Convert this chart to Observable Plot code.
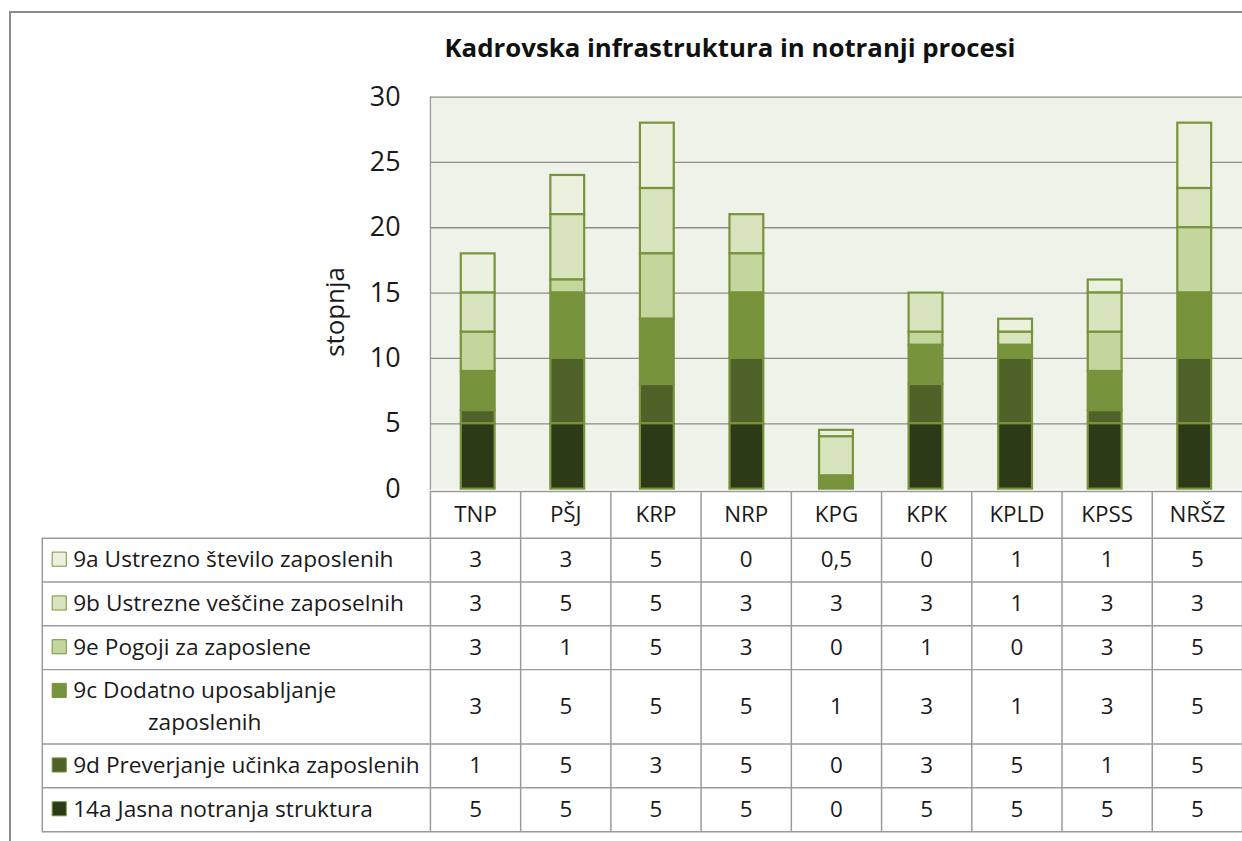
<!DOCTYPE html>
<html>
<head>
<meta charset="utf-8">
<script src="https://cdn.jsdelivr.net/npm/d3@7"></script>
<script src="https://cdn.jsdelivr.net/npm/@observablehq/plot@0.6"></script>
<style>
  html, body { margin: 0; padding: 0; background: #fff; }
  #wrap { position: relative; width: 1242px; height: 841px; overflow: hidden; background: #fff; font-family: "Open Sans", sans-serif; }
  #border { position: absolute; left: 9px; top: 11px; width: 1400px; height: 1000px; border: 2px solid #8c8c8c; box-sizing: border-box; }
  #title { position: absolute; top: 30px; left: 0; width: 1460px; text-align: center; font-weight: bold; font-size: 25.8px; color: #111; line-height: 34px; }
  #chart { position: absolute; left: 0; top: 0; }
  #table { position: absolute; left: 0; top: 490px; }
  svg { overflow: visible; }
</style>
</head>
<body>
<div id="wrap">
  <div id="border"></div>
  <div id="title">Kadrovska infrastruktura in notranji procesi</div>
  <div id="chart"></div>
  <div id="table"></div>
</div>
<script>
const categories = ["TNP", "PŠJ", "KRP", "NRP", "KPG", "KPK", "KPLD", "KPSS", "NRŠZ"];
const seriesNames = [
  "9a Ustrezno število zaposlenih",
  "9b Ustrezne veščine zaposelnih",
  "9e Pogoji za zaposlene",
  "9c Dodatno uposabljanje\nzaposlenih",
  "9d Preverjanje učinka zaposlenih",
  "14a Jasna notranja struktura"
];
const v9a  = [3, 3, 5, 0, 0.5, 0, 1, 1, 5];
const v9b  = [3, 5, 5, 3, 3, 3, 1, 3, 3];
const v9e  = [3, 1, 5, 3, 0, 1, 0, 3, 5];
const v9c  = [3, 5, 5, 5, 1, 3, 1, 3, 5];
const v9d  = [1, 5, 3, 5, 0, 3, 5, 1, 5];
const v14a = [5, 5, 5, 5, 0, 5, 5, 5, 5];
const seriesColors = ["#ebf1de", "#d7e4bd", "#c3d69b", "#77933c", "#4f6228", "#2c3a17"];
const yTicks = [0, 5, 10, 15, 20, 25, 30];

const seriesValues = [v9a, v9b, v9e, v9c, v9d, v14a];
const rows = [];
seriesNames.forEach((s, r) => categories.forEach((c, i) => rows.push({series: s, cat: c, idx: i, value: seriesValues[r][i]})));
const barRows = rows.filter(d => d.value > 0);
const stackOrder = seriesNames.slice().reverse();
const fmt = v => String(v).replace(".", ",");

const FONT = "Open Sans";
const INK = "#1a1a1a";

// ---------- chart ----------
const chart = Plot.plot({
  width: 1248,
  height: 500,
  marginTop: 97,
  marginBottom: 9,
  marginLeft: 432,
  marginRight: 0,
  style: {fontFamily: FONT, background: "transparent", overflow: "visible"},
  x: {domain: categories, paddingInner: 0.62, paddingOuter: 0.31, axis: null},
  y: {domain: [0, 30], axis: null},
  color: {domain: seriesNames, range: seriesColors},
  marks: [
    Plot.frame({fill: "#eff2e8", stroke: null}),
    Plot.gridY(yTicks.slice(1), {stroke: "#8c8c8c", strokeOpacity: 1, strokeWidth: 1.3}),
    Plot.frame({anchor: "left", stroke: "#9a9a9a", strokeWidth: 1.3}),
    Plot.barY(barRows, Plot.stackY({
      x: "cat", y: "value", fill: "series", order: stackOrder,
      stroke: "#77933c", strokeWidth: 2.2
    })),
    Plot.axisY(yTicks, {tickSize: 0, tickPadding: 30, fontSize: 27, fill: INK, label: null}),
    Plot.text(["stopnja"], {frameAnchor: "left", textAnchor: "middle", dx: -95, dy: 19, rotate: -90, fontSize: 26, fill: INK})
  ]
});
document.getElementById("chart").appendChild(chart);

// ---------- data table ----------
const unitPx = 44;
const headerH = 47 / unitPx;
const rowH = s => 1 + 0.7 * (s.split("\n").length - 1);
const rowTop = {}, rowMid = {};
let acc = headerH;
for (const s of seriesNames) { rowTop[s] = acc; rowMid[s] = acc + rowH(s) / 2; acc += rowH(s); }
const total = acc;
const colPx = (1248 - 432) / categories.length;
const LU = (432 - 42) / colPx;

const hLines = [{y: 0, x1: 0}, {y: headerH, x1: -LU}, ...seriesNames.map(s => ({y: rowTop[s] + rowH(s), x1: -LU}))];
const vLines = [{x: -LU, y1: headerH}, ...d3.range(0, categories.length + 1).map(k => ({x: k, y1: 0}))];

const LABEL_FS = 22.8;
const ctx = document.createElement("canvas").getContext("2d");
ctx.font = `${LABEL_FS}px "${FONT}"`;
const labelDx = s => {
  const lines = s.split("\n");
  return lines.length > 1 ? 31 + ctx.measureText(lines[0]).width / 2 : 31;
};
const firstLineY = s => s.split("\n").length > 1 ? rowMid[s] - 15.5 / unitPx : rowMid[s];

const table = Plot.plot({
  width: 1248,
  height: 1 + total * unitPx + 20,
  marginTop: 1,
  marginBottom: 20,
  marginLeft: 42,
  marginRight: 0,
  style: {fontFamily: FONT, background: "transparent", overflow: "visible"},
  x: {domain: [-LU, categories.length], range: [42, 1248], axis: null},
  y: {domain: [0, total], range: [1, 1 + total * unitPx], axis: null},
  color: {domain: seriesNames, range: seriesColors},
  marks: [
    Plot.ruleY(hLines, {y: "y", x1: "x1", x2: categories.length, stroke: "#9b9b9b", strokeWidth: 1.5}),
    Plot.ruleX(vLines, {x: "x", y1: "y1", y2: total, stroke: "#9b9b9b", strokeWidth: 1.5}),
    Plot.text(categories, {x: (d, i) => i + 0.5, y: headerH / 2, text: d => d, fontSize: 22.5, fill: INK}),
    Plot.text(rows, {x: d => d.idx + 0.5, y: d => rowMid[d.series], text: d => fmt(d.value), fontSize: 22.5, fill: INK}),
    Plot.dot(seriesNames, {x: -LU, dx: 17, dy: -1, y: d => firstLineY(d), symbol: "square", r: 8, fill: d => d, stroke: "#77933c", strokeWidth: 1}),
    ...seriesNames.map(s => Plot.text([s], {
      x: -LU, dx: labelDx(s), dy: -3, y: rowMid[s], text: d => d,
      textAnchor: s.includes("\n") ? "middle" : "start",
      lineHeight: 1.4, fontSize: LABEL_FS, fill: INK
    }))
  ]
});
document.getElementById("table").appendChild(table);
</script>
</body>
</html>
